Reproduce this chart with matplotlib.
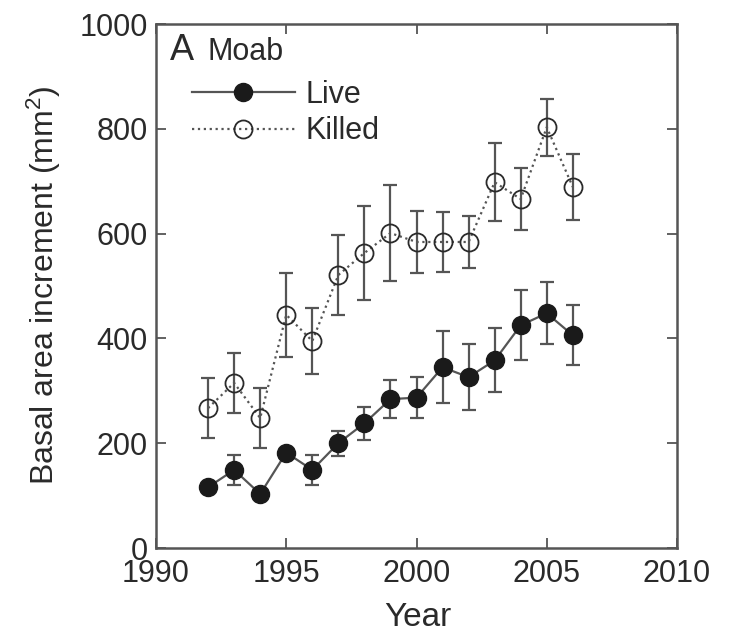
import matplotlib
matplotlib.use('Agg')
import matplotlib.pyplot as plt
import numpy as np

plt.rcParams['font.family'] = ['Liberation Sans', 'DejaVu Sans']
plt.rcParams['mathtext.default'] = 'regular'

# data
years = [1992, 1993, 1994, 1995, 1996, 1997, 1998, 1999, 2000, 2001, 2002, 2003, 2004, 2005, 2006]
live = [116, 149, 103, 182, 149, 200, 238, 284, 287, 345, 326, 358, 425, 448, 406]
live_err = [0, 29, 0, 0, 29, 24, 32, 36, 39, 69, 63, 61, 67, 59, 57]
killed = [267, 315, 248, 445, 395, 521, 563, 601, 584, 584, 584, 698, 666, 803, 689]
killed_err = [57, 57, 57, 80, 63, 76, 90, 92, 60, 58, 50, 74, 60, 54, 63]

ink = '#2a2a2a'
grey = '#555555'

fig = plt.figure(figsize=(7.43, 6.35), dpi=100)
ax = fig.add_axes([156 / 743, 1 - 548 / 635, (677 - 156) / 743, (548 - 24) / 635])

ax.errorbar(years, killed, yerr=killed_err, fmt='none', ecolor=grey, elinewidth=1.6,
            capsize=5, capthick=1.6, zorder=1)
ax.errorbar(years, live, yerr=live_err, fmt='none', ecolor=grey, elinewidth=1.6,
            capsize=5, capthick=1.6, zorder=1)
ax.plot(years, killed, linestyle=':', color=grey, linewidth=1.6, marker='o',
        markersize=13, markerfacecolor='none', markeredgecolor=ink, markeredgewidth=1.3,
        label='Killed', zorder=3)
ax.plot(years, live, linestyle='-', color=grey, linewidth=1.6, marker='o',
        markersize=13, markerfacecolor='#1a1a1a', markeredgecolor='#1a1a1a',
        label='Live', zorder=3)

ax.set_xlim(1990, 2010)
ax.set_ylim(0, 1000)
ax.set_xticks([1990, 1995, 2000, 2005, 2010])
ax.set_yticks([0, 200, 400, 600, 800, 1000])
ax.tick_params(direction='in', top=True, right=True, length=7, width=1.3,
               colors=grey, labelcolor=ink, labelsize=22)
ax.tick_params(axis='x', pad=8)
ax.tick_params(axis='y', pad=6)
for s in ax.spines.values():
    s.set_color(grey)
    s.set_linewidth(1.8)

ax.set_xlabel('Year', fontsize=24, color=ink)
ax.xaxis.set_label_coords(0.503, -0.104)
ax.set_ylabel('Basal area increment (mm$^2$)', fontsize=23, color=ink)
ax.yaxis.set_label_coords(-0.178, 0.502)

ax.text(0.027, 0.931, 'A', transform=ax.transAxes, fontsize=26, color=ink,
        va='baseline', ha='left')
ax.text(0.098, 0.931, 'Moab', transform=ax.transAxes, fontsize=22, color=ink,
        va='baseline', ha='left')

h, l = ax.get_legend_handles_labels()
ax.legend(h[::-1], l[::-1], loc='upper left', bbox_to_anchor=(0.069, 0.894), frameon=False,
          fontsize=22, handlelength=3.37, handletextpad=0.33, labelspacing=0.22,
          borderaxespad=0, borderpad=0, labelcolor=ink)

plt.savefig('out.png', dpi=100)
